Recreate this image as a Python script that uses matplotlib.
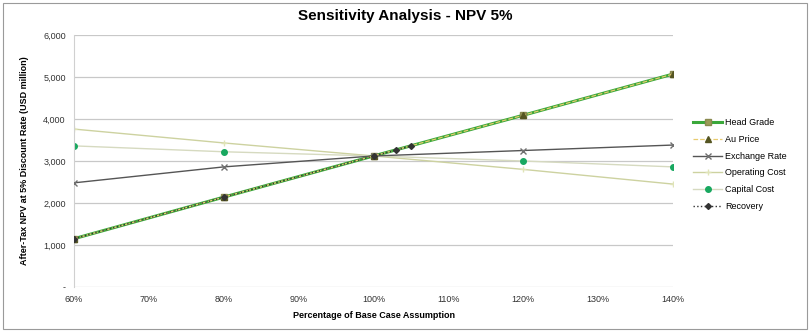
import matplotlib.pyplot as plt
from matplotlib.patches import Rectangle
from matplotlib.ticker import FuncFormatter

plt.rcParams['font.family'] = ['Liberation Sans', 'DejaVu Sans']

pct = [60, 80, 100, 120, 140]
head_grade = [1150, 2140, 3120, 4090, 5070]
au_price = [1150, 2140, 3120, 4090, 5070]
exchange_rate = [2480, 2860, 3120, 3250, 3380]
operating_cost = [3760, 3430, 3120, 2800, 2450]
capital_cost = [3360, 3220, 3120, 3000, 2860]
recovery_pct = [60, 80, 100, 103, 105]
recovery = [1150, 2140, 3120, 3260, 3360]

fig = plt.figure(figsize=(8.1, 3.32), dpi=100)
fig.patches.append(Rectangle((0.004, 0.01), 0.992, 0.98, transform=fig.transFigure,
                             fill=False, edgecolor='#9a9a9a', linewidth=0.8))
ax = fig.add_axes([0.0914, 0.1355, 0.7396, 0.7591])

ax.plot(pct, head_grade, color='#3aa83a', linewidth=2.2, marker='s', markersize=5,
        markerfacecolor='#9c9c58', markeredgecolor='#8a8a50', label='Head Grade', zorder=3)
ax.plot(pct, au_price, color='#e8cc70', linewidth=0.9, linestyle='--', marker='^', markersize=4,
        markerfacecolor='#555522', markeredgecolor='#555522', label='Au Price', zorder=4)
ax.plot(pct, exchange_rate, color='#555555', linewidth=1.0, marker='x', markersize=5,
        markeredgecolor='#707070', label='Exchange Rate', zorder=3)
ax.plot(pct, operating_cost, color='#cdd2a0', linewidth=1.0, marker='+', markersize=5,
        markeredgecolor='#e0e4b8', label='Operating Cost', zorder=2)
ax.plot(pct, capital_cost, color='#d6dac0', linewidth=1.0, marker='o', markersize=4,
        markerfacecolor='#18a860', markeredgecolor='#18a860', label='Capital Cost', zorder=2)
ax.plot(recovery_pct, recovery, color='#333333', linewidth=1.0, linestyle=':', marker='D',
        markersize=3, markerfacecolor='#333333', markeredgecolor='#333333', label='Recovery', zorder=5)

ax.set_xlim(60, 140)
ax.set_ylim(0, 6000)
ax.set_xticks(range(60, 141, 10))
ax.set_yticks(range(0, 6001, 1000))
ax.xaxis.set_major_formatter(FuncFormatter(lambda v, p: '%d%%' % v))
ax.yaxis.set_major_formatter(FuncFormatter(lambda v, p: '-' if v == 0 else '{:,.0f}'.format(v)))
ax.tick_params(axis='both', labelsize=6.5, colors='#333333', length=0, pad=6)
ax.grid(axis='y', color='#c8c8c8', linewidth=0.9)
ax.set_axisbelow(True)
for s in ['top', 'right', 'bottom']:
    ax.spines[s].set_visible(False)
ax.spines['left'].set_color('#d0d0d0')

ax.set_xlabel('Percentage of Base Case Assumption', fontsize=6.5, fontweight='bold', labelpad=5)
ax.set_ylabel('After-Tax NPV at 5% Discount Rate (USD million)', fontsize=6.5, fontweight='bold', labelpad=10)
fig.suptitle('Sensitivity Analysis - NPV 5%', fontsize=11, fontweight='bold', y=0.972)

ax.legend(loc='center left', bbox_to_anchor=(1.02, 0.486), frameon=False, fontsize=6.5,
          handlelength=3.2, labelspacing=0.85, handletextpad=0.3)

fig.savefig('out.png', dpi=100)
